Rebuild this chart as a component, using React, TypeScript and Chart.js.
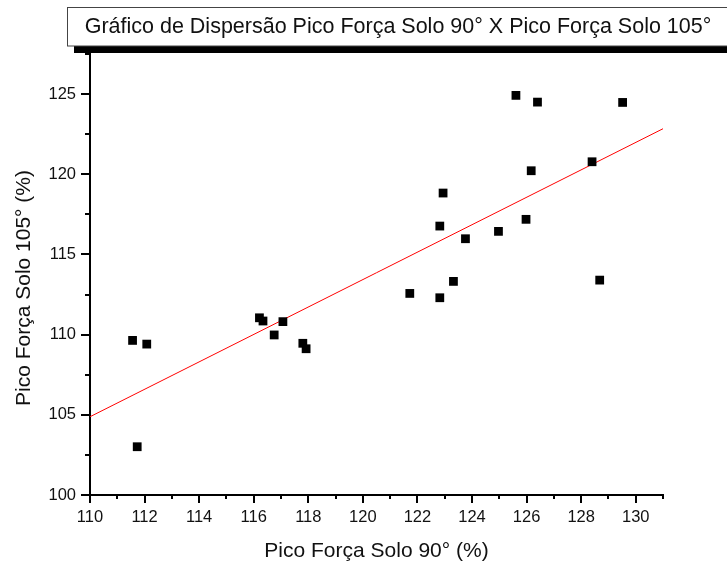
import { useEffect, useRef } from "react";
import { Chart, registerables } from "chart.js";

Chart.register(...registerables);

const chartTitle = "Gráfico de Dispersão Pico Força Solo 90° X Pico Força Solo 105°";
const xAxisTitle = "Pico Força Solo 90° (%)";
const yAxisTitle = "Pico Força Solo 105° (%)";

const xValues = [111.56, 112.08, 111.73, 116.21, 116.34, 116.75, 117.07, 117.8, 117.92, 121.72, 122.82, 122.82, 122.94, 123.32, 123.76, 124.97, 125.61, 125.98, 126.17, 126.4, 128.4, 128.68, 129.52];
const yValues = [109.64, 109.41, 103.01, 111.05, 110.85, 109.98, 110.81, 109.46, 109.12, 112.57, 112.3, 116.77, 118.83, 113.32, 115.98, 116.44, 124.92, 117.19, 120.22, 124.5, 120.78, 113.4, 124.48];

const fitX = [110, 131];
const fitY = [104.88, 122.84];

const xTickLabels = [110, 112, 114, 116, 118, 120, 122, 124, 126, 128, 130];
const xMinorTicks = [111, 113, 115, 117, 119, 121, 123, 125, 127, 129, 131];
const yTickLabels = [100, 105, 110, 115, 120, 125];
const yMinorTicks = [102.5, 107.5, 112.5, 117.5, 122.5, 127.5];

const FONT = '"Liberation Sans", Arial, sans-serif';
const TEXT = "#111";

const framePlugin = {
  id: "frame",
  beforeDraw(chart: any) {
    const ctx = chart.ctx;
    ctx.save();
    // shadow
    ctx.fillStyle = "#000";
    ctx.fillRect(74, 46, 727 - 74, 7);
    // box
    ctx.fillStyle = "#fff";
    ctx.fillRect(67.5, 7.5, 700, 38.5);
    ctx.strokeStyle = "#444";
    ctx.lineWidth = 1;
    ctx.strokeRect(67.5, 7.5, 700, 38.5);
    ctx.fillStyle = TEXT;
    ctx.font = `21.5px ${FONT}`;
    ctx.textAlign = "center";
    ctx.textBaseline = "alphabetic";
    ctx.fillText(chartTitle, 398, 33);
    // y axis title
    ctx.save();
    ctx.translate(24, 288);
    ctx.rotate(-Math.PI / 2);
    ctx.font = `21px ${FONT}`;
    ctx.textAlign = "center";
    ctx.textBaseline = "middle";
    ctx.fillText(yAxisTitle, 0, 0);
    ctx.restore();
    ctx.restore();
  },
  afterDraw(chart: any) {
    const ctx = chart.ctx;
    const xs = chart.scales.x;
    const ys = chart.scales.y;
    const area = chart.chartArea;
    ctx.save();
    ctx.strokeStyle = "#000";
    ctx.lineWidth = 2;
    ctx.beginPath();
    const addX = (v: number, len: number) => {
      const p = Math.round(xs.getPixelForValue(v));
      ctx.moveTo(p, area.bottom);
      ctx.lineTo(p, area.bottom + len);
    };
    const addY = (v: number, len: number) => {
      const p = Math.round(ys.getPixelForValue(v));
      ctx.moveTo(area.left, p);
      ctx.lineTo(area.left - len, p);
    };
    xTickLabels.forEach((v) => addX(v, 8));
    xMinorTicks.forEach((v) => addX(v, 4));
    yTickLabels.forEach((v) => addY(v, 9));
    yMinorTicks.forEach((v) => addY(v, 5));
    ctx.stroke();
    ctx.restore();
  },
};

export default function App() {
  const ref = useRef<HTMLCanvasElement | null>(null);
  useEffect(() => {
    if (!ref.current) return;
    const points = xValues.map((x, i) => ({ x, y: yValues[i] }));
    const fit = fitX.map((x, i) => ({ x, y: fitY[i] }));
    const chart = new Chart(ref.current, {
      type: "scatter",
      data: {
        datasets: [
          {
            type: "scatter",
            data: points,
            pointStyle: "rect",
            pointRadius: 6.2,
            pointHoverRadius: 6.2,
            backgroundColor: "#000",
            borderColor: "#000",
            borderWidth: 0,
            order: 1,
          } as any,
          {
            type: "line",
            data: fit,
            showLine: true,
            borderColor: "#ff0000",
            borderWidth: 1,
            pointRadius: 0,
            fill: false,
            order: 2,
          } as any,
        ],
      },
      options: {
        animation: false,
        responsive: false,
        maintainAspectRatio: false,
        events: [],
        layout: { padding: { top: 54, right: 64, left: 0, bottom: 0 } },
        plugins: {
          legend: { display: false },
          title: { display: false },
          tooltip: { enabled: false },
        },
        scales: {
          x: {
            type: "linear",
            min: 110,
            max: 131,
            grid: { display: false, drawTicks: false },
            border: { display: true, color: "#000", width: 2 },
            afterBuildTicks: (s: any) => {
              s.ticks = xTickLabels.map((v) => ({ value: v }));
            },
            afterFit: (s: any) => {
              s.height = 70;
            },
            ticks: {
              padding: 13,
              color: TEXT,
              maxRotation: 0,
              autoSkip: false,
              font: { family: FONT, size: 16.5 },
            },
            title: {
              display: true,
              text: xAxisTitle,
              color: TEXT,
              font: { family: FONT, size: 21 },
              padding: { top: 0, bottom: 1 },
            },
          },
          y: {
            type: "linear",
            min: 100,
            max: 127.5,
            grid: { display: false, drawTicks: false },
            border: { display: true, color: "#000", width: 2 },
            afterBuildTicks: (s: any) => {
              s.ticks = yTickLabels.map((v) => ({ value: v }));
            },
            afterFit: (s: any) => {
              s.width = 90;
            },
            ticks: {
              padding: 14,
              color: TEXT,
              autoSkip: false,
              font: { family: FONT, size: 16.5 },
            },
            title: {
              display: false,
              text: yAxisTitle,
            },
          },
        },
      },
      plugins: [framePlugin],
    });
    return () => chart.destroy();
  }, []);
  return (
    <div style={{ position: "fixed", left: 0, top: 0, width: 727, height: 565, background: "#fff" }}>
      <canvas ref={ref} width={727} height={565} style={{ width: 727, height: 565 }} />
    </div>
  );
}
